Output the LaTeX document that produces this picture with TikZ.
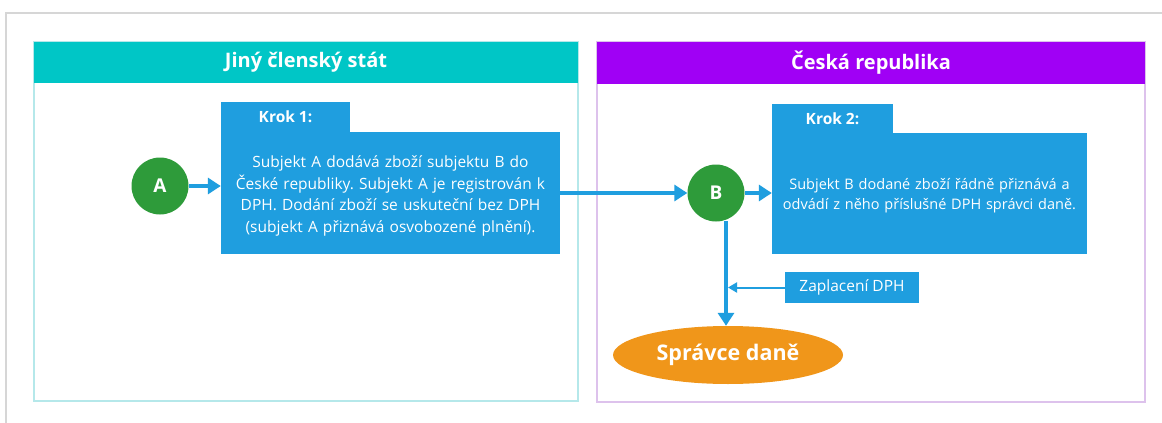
\documentclass[tikz,border=0pt]{standalone}
\usepackage{fontspec}
\setmainfont{Open Sans}
\usetikzlibrary{arrows.meta,shapes.geometric}
\definecolor{frame}{HTML}{D6D6D6}
\definecolor{teal}{HTML}{00C6C6}
\definecolor{tealb}{HTML}{B5E8EA}
\definecolor{purp}{HTML}{A000F5}
\definecolor{purpb}{HTML}{DDC2EC}
\definecolor{bluebox}{HTML}{1F9EDF}
\definecolor{greenc}{HTML}{2E9B3A}
\definecolor{orangee}{HTML}{F0961A}
\frenchspacing
\tikzset{
  panel/.style={draw=#1, line width=1.2pt, fill=white},
  header/.style={fill=#1, inner sep=0pt, text=white, font=\fontsize{20}{24}\selectfont\bfseries},
  bbox/.style={fill=bluebox, inner sep=0pt},
  btext/.style={inner sep=0pt, text=white, align=center, font=\fontsize{15.5}{21.5}\selectfont},
  tab/.style={fill=bluebox, inner sep=0pt, text=white, font=\fontsize{15.5}{18}\selectfont\bfseries},
  circ/.style={circle, fill=greenc, minimum size=57pt, inner sep=0pt, text=white, font=\fontsize{19}{22}\selectfont\bfseries},
  bigarrow/.style={draw=bluebox, line width=4.5pt, -{Triangle[length=13pt,width=16pt]}},
  smallarrow/.style={draw=bluebox, line width=2pt, -{Triangle[length=9pt,width=10pt]}},
}
\begin{document}
\begin{tikzpicture}[x=1pt,y=-1pt]
\useasboundingbox (0,0) rectangle (1162,423);
\fill[white] (0,0) rectangle (1162,423);
% outer frame
\draw[frame, line width=1.5pt] (6,423) -- (6,13) -- (1162,13);
% left panel
\draw[panel=tealb] (34,42) rectangle (578,401);
\node[header=teal, minimum width=544pt, minimum height=41pt] (hl) at (306,62.5) {Jiný členský stát};
% right panel
\draw[panel=purpb] (597,42) rectangle (1145,402);
\node[header=purp, minimum width=548pt, minimum height=42pt] (hr) at (871,63) {Česká republika};
% step 1
\node[bbox, minimum width=339pt, minimum height=122pt] (box1) at (390.5,193) {};
\node[btext, text width=335pt] (t1) at (390.5,196) {Subjekt A dodává zboží subjektu B do\\České republiky. Subjekt A je registrován k\\DPH. Dodání zboží se uskuteční bez DPH\\(subjekt A přiznává osvobozené plnění).};
\node[tab, minimum width=129pt, minimum height=31pt] (tab1) at (285.5,117) {Krok 1:};
% step 2
\node[bbox, minimum width=315pt, minimum height=121pt] (box2) at (929.5,193.5) {};
\node[btext, text width=330pt, font=\fontsize{14.5}{20}\selectfont] (t2) at (929.5,195.5) {Subjekt B dodané zboží řádně přiznává a\\odvádí z něho příslušné DPH správci daně.};
\node[tab, minimum width=121pt, minimum height=30pt] (tab2) at (832.5,118.5) {Krok 2:};
% circles
\node[circ] (A) at (160,186) {A};
\node[circ] (B) at (716,193) {B};
% tax office
\node[ellipse, fill=orangee, minimum width=230pt, minimum height=58pt, inner sep=0pt, text=white, font=\fontsize{21.5}{24}\selectfont\bfseries] (sd) at (728,355) {Správce daně};
% payment label
\node[fill=bluebox, minimum width=134pt, minimum height=31pt, inner sep=0pt, text=white, font=\fontsize{15.5}{18}\selectfont] (zap) at (852,287.5) {Zaplacení DPH};
% connectors
\draw[bigarrow] (A.east) -- (box1.west |- A.east);
\draw[bigarrow] (box1.east |- B.west) -- (B.west);
\draw[bigarrow] (B.east) -- (box2.west |- B.east);
\coordinate (bbot) at (726,221);
\draw[bigarrow] (bbot) -- (sd.north -| bbot);
\draw[smallarrow] (zap.west) -- ([xshift=2pt]zap.west -| bbot);
\end{tikzpicture}
\end{document}
